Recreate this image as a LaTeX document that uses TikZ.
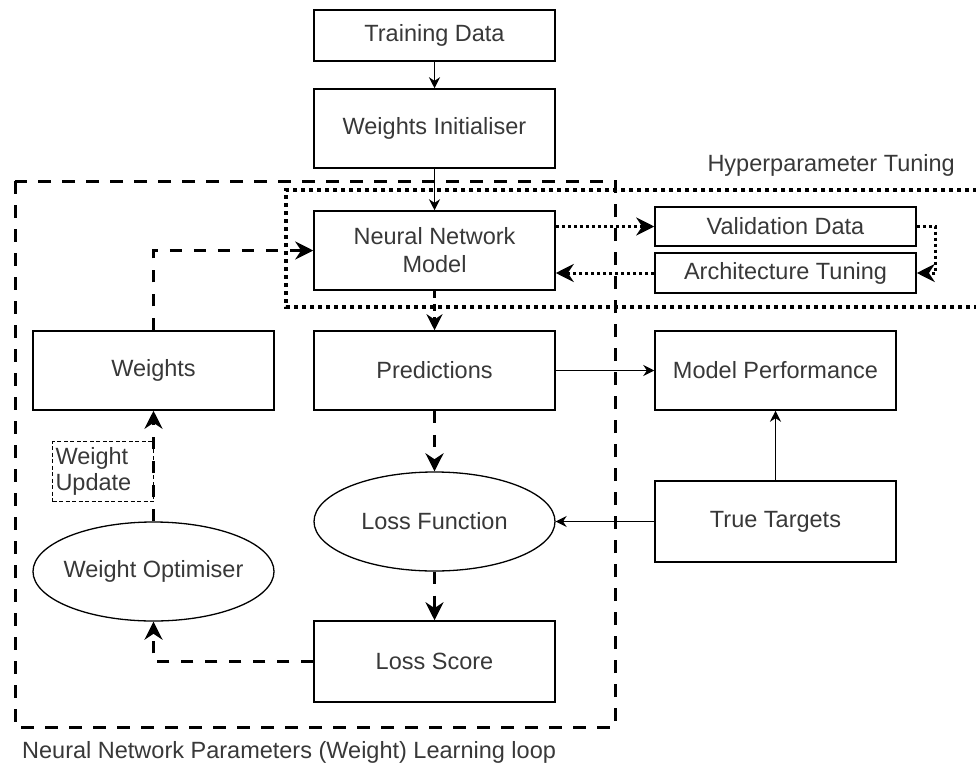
\documentclass[tikz,border=0pt]{standalone}
\usepackage{fontspec}
\setmainfont{Liberation Sans}
\usetikzlibrary{arrows.meta,shapes.geometric}
\definecolor{txt}{HTML}{383838}
\tikzset{
  box/.style={draw=black, line width=1.5pt, rectangle, inner sep=0pt, minimum width=241pt, text=txt, font=\fontsize{23.5}{28}\selectfont, align=center},
  ell/.style={draw=black, line width=1.3pt, ellipse, inner xsep=-25pt, inner ysep=0pt, minimum width=241pt, minimum height=99pt, text=txt, font=\fontsize{23.5}{28}\selectfont},
  plainlabel/.style={inner sep=0pt, text=txt, font=\fontsize{23.5}{28}\selectfont},
  solidarrow/.style={line width=1.5pt, -{Stealth[length=11pt,width=11pt]}},
  dasharrow/.style={line width=3pt, dash pattern=on 12pt off 12pt, -{Stealth[length=18pt,width=18pt]}},
  shortdash/.style={line width=2.5pt, dash pattern=on 7pt off 6pt, -{Stealth[length=16pt,width=16pt]}},
  dotarrow/.style={line width=3pt, dash pattern=on 3pt off 3pt, -{Stealth[length=18pt,width=18pt]}},
  loopframe/.style={line width=3pt, dash pattern=on 13pt off 11pt},
  hyperframe/.style={line width=4.5pt, dash pattern=on 4pt off 4pt},
}
\begin{document}
\begin{tikzpicture}[x=1pt,y=-1pt]
\useasboundingbox (0,0) rectangle (976,771);

% frames
\draw[loopframe] (15,181) rectangle (615,727);
\draw[hyperframe] (985,190) -- (286,190) -- (286,307) -- (985,307);

% boxes
\node[box, minimum height=51pt] (train) at (434.5,35.5) {Training Data};
\node[box, minimum height=79pt] (init) at (434.5,128.5) {Weights Initialiser};
\node[box, minimum height=79pt] (nn) at (434.5,250.5) {Neural Network\\Model};
\node[box, minimum height=79pt] (pred) at (434.5,370.5) {Predictions};
\node[ell] (lf) at (434.5,521.5) {Loss Function};
\node[box, minimum height=81pt] (ls) at (434.5,661.5) {Loss Score};
\node[box, minimum height=79pt] (weights) at (153.5,370.5) {Weights};
\node[ell] (wo) at (153.5,571.5) {Weight Optimiser};
\node[box, minimum width=261pt, minimum height=39pt] (val) at (785.5,226.5) {Validation Data};
\node[box, minimum width=261pt, minimum height=40pt] (arch) at (785.5,273) {Architecture Tuning};
\node[box, minimum height=79pt] (mp) at (775.5,370.5) {Model Performance};
\node[box, minimum height=81pt] (true) at (775.5,521.5) {True Targets};

% labels
\node[plainlabel, anchor=east] (hyperlbl) at (955,165) {Hyperparameter Tuning};
\node[plainlabel, anchor=west] (looplbl) at (22,752) {Neural Network Parameters (Weight) Learning loop};
\node[draw=black, line width=1pt, dash pattern=on 4pt off 2.5pt, minimum width=101pt, minimum height=60pt, inner sep=2pt, align=left, text=txt, font=\fontsize{23.5}{26}\selectfont, anchor=north east, text width=95pt] (wu) at (154,441) {Weight\\Update};

% connectors
\draw[solidarrow] (train) -- (init);
\draw[solidarrow] (init) -- (nn);
\draw[shortdash] (nn) -- (pred);
\draw[dasharrow] (pred) -- (lf);
\draw[dasharrow] (lf) -- (ls);
\draw[solidarrow] (pred) -- (mp);
\draw[solidarrow] (true) -- (lf);
\draw[solidarrow] (true) -- (mp);
\draw[dasharrow] (ls.west) -| (wo.south);
\draw[dasharrow] (wo.north) -- (weights.south);
\draw[dasharrow] (weights.north) |- (nn.west);
\draw[dotarrow] (nn.east |- val.west) -- (val.west);
\draw[dotarrow] (val.east) -- ++(19,0) |- (arch.east);
\draw[dotarrow] (arch.west) -- (arch.west -| nn.east);
\end{tikzpicture}
\end{document}
